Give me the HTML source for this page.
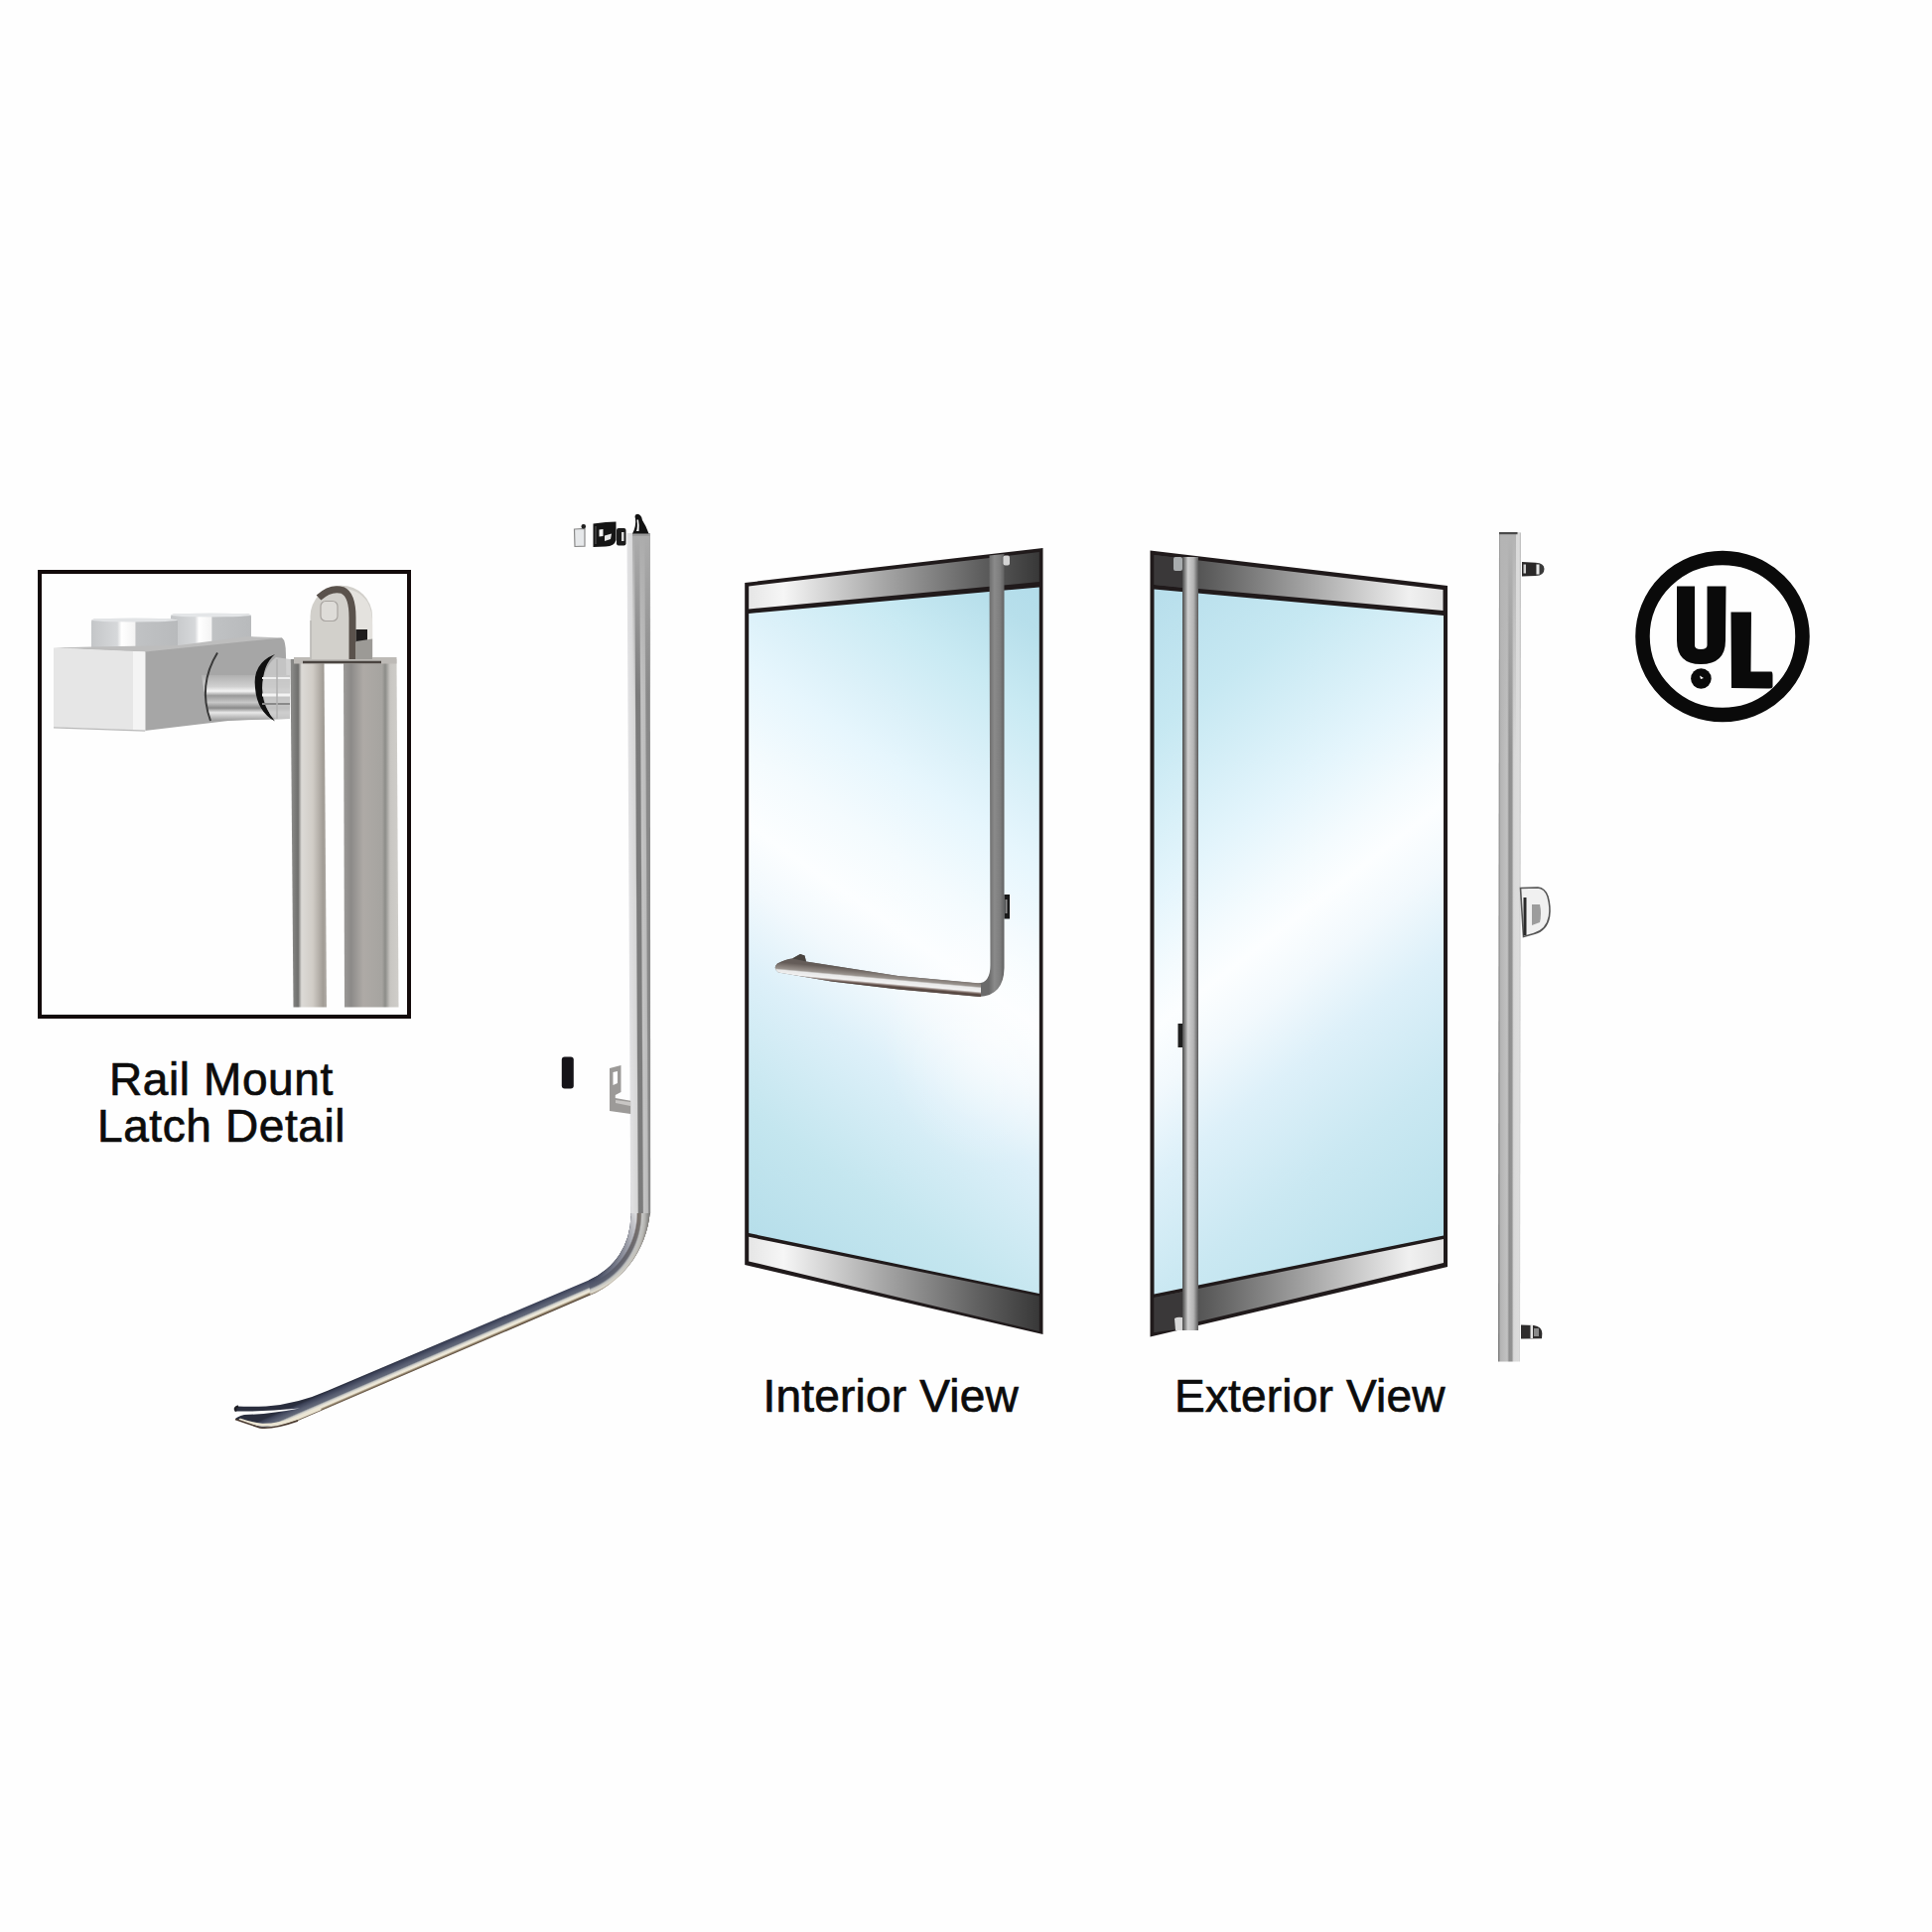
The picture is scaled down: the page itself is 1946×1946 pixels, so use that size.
<!DOCTYPE html>
<html><head><meta charset="utf-8">
<style>
html,body{margin:0;padding:0;background:#fefefe;width:1946px;height:1946px;overflow:hidden}
svg{position:absolute;left:0;top:0;display:block}
text{font-family:"Liberation Sans",sans-serif;fill:#0c0c0c;stroke:#0c0c0c;stroke-width:0.7px}
</style></head>
<body>
<svg width="1946" height="1946" viewBox="0 0 1946 1946" xmlns="http://www.w3.org/2000/svg">
<defs>
  <linearGradient id="glassI" gradientUnits="userSpaceOnUse" x1="1107.4" y1="627" x2="699.8" y2="1208.5">
    <stop offset="0" stop-color="#b2dcea"/>
    <stop offset="0.062" stop-color="#b7dfeb"/>
    <stop offset="0.162" stop-color="#c9eaf3"/>
    <stop offset="0.27" stop-color="#dcf1f9"/>
    <stop offset="0.332" stop-color="#e6f6fd"/>
    <stop offset="0.437" stop-color="#f4fbfe"/>
    <stop offset="0.521" stop-color="#fcfeff"/>
    <stop offset="0.592" stop-color="#f2f9fd"/>
    <stop offset="0.687" stop-color="#ddf0f9"/>
    <stop offset="0.852" stop-color="#c4e6ef"/>
    <stop offset="1" stop-color="#b6deea"/>
  </linearGradient>
  <linearGradient id="glassE" gradientUnits="userSpaceOnUse" x1="1077" y1="633.4" x2="1514.4" y2="1193">
    <stop offset="0" stop-color="#b4dcea"/>
    <stop offset="0.19" stop-color="#c6e8f2"/>
    <stop offset="0.372" stop-color="#e4f5fc"/>
    <stop offset="0.465" stop-color="#f4fbfe"/>
    <stop offset="0.521" stop-color="#fcfeff"/>
    <stop offset="0.592" stop-color="#f2f9fd"/>
    <stop offset="0.687" stop-color="#ddf0f9"/>
    <stop offset="0.823" stop-color="#cae8f2"/>
    <stop offset="1" stop-color="#b8e0eb"/>
  </linearGradient>
  <linearGradient id="railI" gradientUnits="userSpaceOnUse" x1="754" y1="0" x2="1047" y2="0">
    <stop offset="0" stop-color="#e6e6e6"/>
    <stop offset="0.12" stop-color="#f6f6f6"/>
    <stop offset="0.45" stop-color="#a9a9a9"/>
    <stop offset="0.8" stop-color="#5e5e5e"/>
    <stop offset="1" stop-color="#383838"/>
  </linearGradient>
  <linearGradient id="railE" gradientUnits="userSpaceOnUse" x1="1163" y1="0" x2="1454" y2="0">
    <stop offset="0" stop-color="#383838"/>
    <stop offset="0.2" stop-color="#5e5e5e"/>
    <stop offset="0.55" stop-color="#a9a9a9"/>
    <stop offset="0.88" stop-color="#f0f0f0"/>
    <stop offset="1" stop-color="#e2e2e2"/>
  </linearGradient>
  <linearGradient id="pullE" x1="0" y1="0" x2="1" y2="0">
    <stop offset="0" stop-color="#4a4a4a"/>
    <stop offset="0.18" stop-color="#8c8c8c"/>
    <stop offset="0.35" stop-color="#cfcfcf"/>
    <stop offset="0.7" stop-color="#b4b4b4"/>
    <stop offset="1" stop-color="#5a5a5a"/>
  </linearGradient>
  <linearGradient id="barI" x1="0" y1="0" x2="1" y2="0">
    <stop offset="0" stop-color="#6c6c6c"/>
    <stop offset="0.5" stop-color="#8e8e8e"/>
    <stop offset="1" stop-color="#6a6a6a"/>
  </linearGradient>
  <linearGradient id="railL" gradientUnits="userSpaceOnUse" x1="628.6" y1="0" x2="651.9" y2="0" gradientTransform="skewX(0.309)">
    <stop offset="0" stop-color="#e2e2e4"/>
    <stop offset="0.3" stop-color="#d6d6d6"/>
    <stop offset="0.35" stop-color="#7a7a7a"/>
    <stop offset="0.52" stop-color="#7c7c7c"/>
    <stop offset="0.57" stop-color="#c4c4c4"/>
    <stop offset="0.74" stop-color="#bcbcbc"/>
    <stop offset="0.79" stop-color="#8a8a8a"/>
    <stop offset="1" stop-color="#868686"/>
  </linearGradient>
  <linearGradient id="railLtop" gradientUnits="userSpaceOnUse" x1="0" y1="540" x2="0" y2="700">
    <stop offset="0" stop-color="#acacac" stop-opacity="1"/>
    <stop offset="1" stop-color="#acacac" stop-opacity="0"/>
  </linearGradient>
  <linearGradient id="railR" gradientUnits="userSpaceOnUse" x1="1509" y1="0" x2="1532" y2="0">
    <stop offset="0" stop-color="#6e6e6e"/>
    <stop offset="0.1" stop-color="#b4b4b4"/>
    <stop offset="0.4" stop-color="#c2c2c2"/>
    <stop offset="0.48" stop-color="#8e8e8e"/>
    <stop offset="0.6" stop-color="#929292"/>
    <stop offset="0.68" stop-color="#d8d8d8"/>
    <stop offset="0.92" stop-color="#dcdcdc"/>
    <stop offset="1" stop-color="#b8b8b8"/>
  </linearGradient>
  <linearGradient id="railRtop" gradientUnits="userSpaceOnUse" x1="0" y1="540" x2="0" y2="760">
    <stop offset="0" stop-color="#b4b4b4" stop-opacity="1"/>
    <stop offset="1" stop-color="#b4b4b4" stop-opacity="0"/>
  </linearGradient>
  <linearGradient id="tubeA" gradientUnits="userSpaceOnUse" x1="294" y1="0" x2="329" y2="0">
    <stop offset="0" stop-color="#8a8a88"/>
    <stop offset="0.18" stop-color="#6e6e6c"/>
    <stop offset="0.28" stop-color="#dcdad6"/>
    <stop offset="0.6" stop-color="#d0ccc6"/>
    <stop offset="0.9" stop-color="#a29d96"/>
    <stop offset="1" stop-color="#b0aca6"/>
  </linearGradient>
  <linearGradient id="tubeB" gradientUnits="userSpaceOnUse" x1="347" y1="0" x2="401" y2="0">
    <stop offset="0" stop-color="#9a9896"/>
    <stop offset="0.12" stop-color="#8c8a88"/>
    <stop offset="0.35" stop-color="#aeaaa6"/>
    <stop offset="0.7" stop-color="#a6a4a0"/>
    <stop offset="0.76" stop-color="#8c8c88"/>
    <stop offset="0.85" stop-color="#c8c6c2"/>
    <stop offset="1" stop-color="#cfcdc9"/>
  </linearGradient>
  <linearGradient id="cyl" x1="0" y1="0" x2="1" y2="0">
    <stop offset="0" stop-color="#c4c6c8"/>
    <stop offset="0.3" stop-color="#d6d8da"/>
    <stop offset="0.35" stop-color="#ffffff"/>
    <stop offset="0.5" stop-color="#f4f4f4"/>
    <stop offset="0.52" stop-color="#c0c2c4"/>
    <stop offset="1" stop-color="#b8babc"/>
  </linearGradient>
  <linearGradient id="shaft" x1="0" y1="0" x2="0" y2="1">
    <stop offset="0" stop-color="#b0b0b0"/>
    <stop offset="0.25" stop-color="#d0d0d0"/>
    <stop offset="0.35" stop-color="#f4f4f4"/>
    <stop offset="0.45" stop-color="#9a9a9a"/>
    <stop offset="0.6" stop-color="#c8c8c8"/>
    <stop offset="0.72" stop-color="#8a8a8a"/>
    <stop offset="0.82" stop-color="#e8e8e8"/>
    <stop offset="1" stop-color="#9a9a9a"/>
  </linearGradient>
  <linearGradient id="diag" gradientUnits="userSpaceOnUse" x1="0" y1="-8" x2="0" y2="8">
    <stop offset="0" stop-color="#2e3342"/>
    <stop offset="0.3" stop-color="#4a5060"/>
    <stop offset="0.5" stop-color="#9a9ca4"/>
    <stop offset="0.62" stop-color="#e8e4d8"/>
    <stop offset="0.8" stop-color="#f4efe2"/>
    <stop offset="0.9" stop-color="#8a7a6a"/>
    <stop offset="1" stop-color="#4a3a30"/>
  </linearGradient>
  <linearGradient id="diagG" gradientUnits="userSpaceOnUse" x1="400" y1="1371" x2="406.3" y2="1385.6">
    <stop offset="0" stop-color="#2a2e3e"/>
    <stop offset="0.12" stop-color="#3c4258"/>
    <stop offset="0.35" stop-color="#565c70"/>
    <stop offset="0.52" stop-color="#646a7a"/>
    <stop offset="0.6" stop-color="#c0c2c0"/>
    <stop offset="0.7" stop-color="#e8e4d8"/>
    <stop offset="0.8" stop-color="#eee8d6"/>
    <stop offset="0.9" stop-color="#908068"/>
    <stop offset="1" stop-color="#443428"/>
  </linearGradient>
  <radialGradient id="bendB" gradientUnits="userSpaceOnUse" cx="565" cy="1222" r="95" fx="565" fy="1222">
    <stop offset="0.74" stop-color="#2a2e42"/>
    <stop offset="0.8" stop-color="#4c5268"/>
    <stop offset="0.85" stop-color="#5a6072"/>
    <stop offset="0.87" stop-color="#c0c2c0"/>
    <stop offset="0.9" stop-color="#e0dccf"/>
    <stop offset="0.92" stop-color="#a09484"/>
    <stop offset="0.95" stop-color="#5a4c40"/>
  </radialGradient>
  <radialGradient id="bendA" gradientUnits="userSpaceOnUse" cx="565" cy="1222" r="95" fx="565" fy="1222">
    <stop offset="0.74" stop-color="#d8d8da"/>
    <stop offset="0.8" stop-color="#e4e4e6"/>
    <stop offset="0.815" stop-color="#7a7068"/>
    <stop offset="0.845" stop-color="#7e7872"/>
    <stop offset="0.86" stop-color="#cacac8"/>
    <stop offset="0.89" stop-color="#b4b4b2"/>
    <stop offset="0.94" stop-color="#7a7a78"/>
  </radialGradient>
  <linearGradient id="bendMaskG" gradientUnits="userSpaceOnUse" x1="648" y1="1222" x2="602" y2="1292">
    <stop offset="0" stop-color="#ffffff"/>
    <stop offset="1" stop-color="#000000"/>
  </linearGradient>
  <mask id="bendMask" maskUnits="userSpaceOnUse" x="500" y="1150" width="200" height="200">
    <rect x="500" y="1150" width="200" height="200" fill="url(#bendMaskG)"/>
  </mask>
  <linearGradient id="barIG" gradientUnits="userSpaceOnUse" x1="996" y1="0" x2="1012" y2="0">
    <stop offset="0" stop-color="#6a6a6a"/>
    <stop offset="0.35" stop-color="#8a8a8a"/>
    <stop offset="0.7" stop-color="#7e7e7e"/>
    <stop offset="1" stop-color="#5e5e5e"/>
  </linearGradient>
  <linearGradient id="handleG" gradientUnits="userSpaceOnUse" x1="0" y1="898" x2="0" y2="912.5" gradientTransform="skewY(5.17)">
    <stop offset="0" stop-color="#645c58"/>
    <stop offset="0.25" stop-color="#847c77"/>
    <stop offset="0.45" stop-color="#9a948f"/>
    <stop offset="0.55" stop-color="#e8e8e8"/>
    <stop offset="0.8" stop-color="#f2f2f2"/>
    <stop offset="0.92" stop-color="#8a7a74"/>
    <stop offset="1" stop-color="#5a4a44"/>
  </linearGradient>
  <radialGradient id="glowG">
    <stop offset="0" stop-color="#ffffff" stop-opacity="0.5"/>
    <stop offset="0.5" stop-color="#ffffff" stop-opacity="0.25"/>
    <stop offset="1" stop-color="#ffffff" stop-opacity="0"/>
  </radialGradient>
  <clipPath id="clipGI"><polygon points="754.2,618 1046.8,591.5 1046.8,1303 754.2,1242"/></clipPath>
</defs>

<!-- ============ LATCH DETAIL BOX ============ -->
<g id="latch">
  <rect x="40" y="576" width="372" height="448" fill="#fefefe" stroke="#130a0a" stroke-width="4"/>
  <!-- cylinders on top of block -->
  <rect x="172" y="618.5" width="81" height="34" rx="3" fill="url(#cyl)"/>
  <ellipse cx="212.5" cy="619.5" rx="40.5" ry="2" fill="#e4e6e8"/>
  <rect x="92" y="623.5" width="87" height="31" rx="3" fill="url(#cyl)"/>
  <ellipse cx="135.5" cy="624.5" rx="43.5" ry="2" fill="#e2e4e6"/>
  <!-- top face strip -->
  <polygon points="54,652.5 92,651.5 180,650 250,641 284,642.5 287,650 146,657" fill="#bdbdbd"/>
  <!-- side face -->
  <path d="M146,656.5 L284,642.5 Q288,645 288,660 L289,724 Q260,724 230,726 L146,736 Z" fill="#a6a6a6"/>
  <!-- front face -->
  <polygon points="54,652.5 146.3,656.5 146.3,736 54,732.5" fill="#e6e6e6"/>
  <polygon points="134,656 146.3,656.5 146.3,736 134,735.5" fill="#f4f4f4"/>
  <line x1="54" y1="732.8" x2="146.3" y2="736.2" stroke="#b8b8b8" stroke-width="1.2"/>
  <!-- horizontal shaft -->
  <path d="M203,680 Q206,700 212,726 L292,724 L292,680 Z" fill="url(#shaft)"/>
  <path d="M219,657.5 Q199,690 212,726" fill="none" stroke="#3a3a3a" stroke-width="2"/>
  <!-- black C ring -->
  <path d="M277,659 Q254,668 257,693 Q259,717 277,726.5 Q266,714 264.5,693 Q264,670 277,659 Z" fill="#101010"/>
  <path d="M264,693 Q265,716 278,724 L292,724 L292,664 L278,662 Q265,672 264,693 Z" fill="#c9c9c9" opacity="0.85"/>
  <line x1="264" y1="683" x2="292" y2="683" stroke="#f0f0f0" stroke-width="2"/>
  <line x1="264" y1="700" x2="292" y2="700" stroke="#f4f4f4" stroke-width="3"/>
  <line x1="264" y1="709" x2="292" y2="709" stroke="#8a8a8a" stroke-width="2"/>
  <line x1="279" y1="664" x2="279" y2="724" stroke="#b0b0b0" stroke-width="1.5"/>
  <!-- vertical tubes -->
  <polygon points="292.5,664 326.5,664 329,1014.5 295.5,1014.5" fill="url(#tubeA)"/>
  <polygon points="346,664 399.5,664 401.5,1014.5 347,1014.5" fill="url(#tubeB)"/>
  <!-- flange plate -->
  <polygon points="296,662 399.5,662 399.5,668.5 296,668.5" fill="#bdbab6"/>
  <line x1="305" y1="667" x2="384" y2="667" stroke="#4a4440" stroke-width="2.5"/>
  <!-- roller housing -->
  <path d="M312.5,664 L312.5,621 A31.3,31.3 0 0 1 375.1,621 L375.1,664 Z" fill="#d2d0cb"/>
  <path d="M357,664 L357,622 Q357,598 342,593 Q360,592 370,606 Q375.5,616 375.1,630 L375.1,664 Z" fill="#e4e2de"/>
  <path d="M321,602 Q333,591 345,594.5 Q355,599 355,622 L355,664" fill="none" stroke="#5a524c" stroke-width="7"/>
  <rect x="358.5" y="634" width="11.5" height="13" fill="#1e1c1c"/>
  <polygon points="358.5,646 375.1,643.5 375.1,664 358.5,664" fill="#9c9a96"/>
  <rect x="323" y="605.5" width="17" height="20" rx="5" fill="#dedcd8" stroke="#a8a4a0" stroke-width="1.2"/>
  <line x1="313" y1="625" x2="313" y2="664" stroke="#bab8b4" stroke-width="1.5"/>
</g>

<!-- ============ LEFT RAIL ============ -->
<g id="railLeft">
  <!-- bend + diagonal -->
  <path d="M635.4,1225.2 A70,70 0 0 1 593.1,1289.5 L330,1400.7 Q300,1414 268,1416.5 Q250,1417 240,1416.5 Q235,1418 238,1421.5 Q262,1422 302,1418.5 Q272,1424.5 246,1425 Q238,1427 237,1429.5 Q250,1434 262,1438 Q276,1439.5 300,1431 L594.5,1304.6 A100,100 0 0 0 655,1213.3 Z" fill="url(#diagG)"/>
  <path d="M635.4,1190 L635.4,1225.2 A70,70 0 0 1 593.1,1289.5 L594.5,1304.6 A100,100 0 0 0 655,1213.3 L655,1190 Z" fill="url(#bendB)"/>
  <path d="M635.4,1190 L635.4,1225.2 A70,70 0 0 1 593.1,1289.5 L594.5,1304.6 A100,100 0 0 0 655,1213.3 L655,1190 Z" fill="url(#bendA)" mask="url(#bendMask)"/>
  <path d="M322,1419 L300,1428.3 Q280,1435.5 264,1435.2 Q251,1433.5 242,1430.2" fill="none" stroke="#ebe5d3" stroke-width="3" stroke-linecap="round"/>
  <path d="M300,1431 Q276,1439.5 262,1438 Q250,1434 237,1429.5" fill="none" stroke="#4a3a30" stroke-width="1.6"/>
  <path d="M240,1416.5 Q235,1418 238,1421.5" fill="none" stroke="#1e1e24" stroke-width="2.5"/>
  <!-- vertical rail -->
  <polygon points="631.5,537 654.8,537 655.2,1222 635.2,1222" fill="url(#railL)"/>
  <polygon points="637,537 654.8,537 655.6,700 637.9,700" fill="url(#railLtop)"/>
  <rect x="637" y="537" width="17.5" height="3" fill="#9a9a9a"/>
  <!-- top hardware -->
  <path d="M637,537.5 L653.5,537.5 Q651,530 647,524 Q646,518 642,517.8 Q638.5,518.5 640,522.5 Q641,530 637,537.5 Z" fill="#121212"/>
  <path d="M641.5,523.5 Q642.5,531 641,535 L643.5,535 Q644,528 643,523.5 Z" fill="#ffffff"/>
  <polygon points="578.5,533 589,532.5 589,550.2 579,550.5" fill="#e6e8ea" stroke="#8a8a8a" stroke-width="1.2"/>
  <rect x="585.5" y="528" width="4.5" height="4.5" rx="2" fill="#222"/>
  <path d="M597.5,527.5 L610,526 L620.5,525.5 L620.5,544 Q619,550 610,550.5 L597.5,551 Z" fill="#151515"/>
  <polygon points="603.5,533.5 607.5,533 607.5,540 603.5,540.5" fill="#f4f4f4"/>
  <polygon points="609,539.5 616,537.5 615,543 609,545" fill="#e8e8e8"/>
  <rect x="599" y="530" width="2" height="18" fill="#3a3a3a"/>
  <rect x="621" y="532" width="9.5" height="17.5" rx="2" fill="#1a1a1a"/>
  <rect x="626" y="536" width="2.5" height="9" fill="#dcdcdc"/>
  <!-- black rubber -->
  <rect x="565.8" y="1064.6" width="12" height="32" rx="3" fill="#151318"/>
  <!-- bracket -->
  <path d="M614,1076 L625.5,1073 L625.5,1100 L619.8,1103 L619.8,1106 L635.2,1108.8 L635.2,1122 L614,1119 Z" fill="#9c9a98"/>
  <polygon points="617.5,1080 622,1079 622,1091 617.5,1093" fill="#ffffff"/>
  <polygon points="620,1108 635,1110 635,1114 620,1111" fill="#c8c6c4"/>
</g>

<!-- ============ TEXT ============ -->
<text x="110" y="1102.5" font-size="46" letter-spacing="0.6">Rail Mount</text>
<text x="98" y="1150" font-size="46" letter-spacing="0.6">Latch Detail</text>
<text x="768.5" y="1422.3" font-size="46" letter-spacing="0.2">Interior View</text>
<text x="1183" y="1422.3" font-size="46" letter-spacing="0.2">Exterior View</text>

<!-- ============ INTERIOR DOOR ============ -->
<g id="doorI">
  <polygon points="750.2,587 1050.5,552 1050.5,1344 750.2,1274" fill="#201a1b"/>
  <polygon points="754.2,590.5 1046.8,556 1046.8,586 754.2,613.5" fill="url(#railI)"/>
  <polygon points="754.2,618 1046.8,591.5 1046.8,1303 754.2,1242" fill="url(#glassI)"/>
  <ellipse cx="1000" cy="1045" rx="110" ry="130" fill="url(#glowG)" clip-path="url(#clipGI)"/>
  <polygon points="754.2,1245.8 1046.8,1305.5 1046.8,1341 754.2,1270.4" fill="url(#railI)"/>
  <!-- push bar -->
  <path d="M996.5,559.5 L1011.5,558 L1011.5,975 Q1011,1003 986,1004 L904.6,996.5 L837.3,988.5 L784,979.5 Q778,975.5 783,970.5 Q792,966 798,965.5 L806,961 L810.5,962.5 L812,968.5 L904.6,983 L985,990.5 Q997.5,990 997.5,972 Z" fill="url(#barIG)"/>
  <path d="M784,979.5 Q778,975.5 783,970.5 Q792,966 798,965.5 L812,968.5 L904.6,983 L988,990.5 L988,1004 L904.6,996.5 L837.3,988.5 Z" fill="url(#handleG)"/>
  <path d="M798,965.5 L806,961 L810.5,962.5 L812,968.5 Z" fill="#4a4440"/>
  <rect x="1010.5" y="559.5" width="6.5" height="10" rx="2" fill="#d4d4d4"/>
  <rect x="1011.5" y="901" width="5.5" height="24.5" fill="#1a1a1a"/>
  <rect x="1012.5" y="906" width="2" height="14" fill="#8a8a8a"/>
</g>

<!-- ============ EXTERIOR DOOR ============ -->
<g id="doorE">
  <polygon points="1158.5,554.5 1458,590 1458,1276 1158.5,1346.5" fill="#201a1b"/>
  <polygon points="1162.5,559 1453.5,594 1453.5,615 1162.5,589" fill="url(#railE)"/>
  <polygon points="1162.5,593.5 1454,620 1454,1244.6 1162.5,1303.5" fill="url(#glassE)"/>
  <polygon points="1162.5,1307 1454,1248 1454,1272 1162.5,1342" fill="url(#railE)"/>
  <polygon points="1162.5,559 1191,562.5 1191,1338.5 1162.5,1342" fill="#383536" opacity="0"/>
  <polygon points="1162.5,559 1191,562.4 1191,592 1162.5,589" fill="#3a3839"/>
  <polygon points="1162.5,1307 1191,1301.2 1191,1338.5 1162.5,1342" fill="#3a3839"/>
  <!-- pull bar -->
  <rect x="1191" y="561" width="16" height="779" fill="url(#pullE)"/>
  <rect x="1182" y="561" width="9" height="14" rx="2" fill="#a8acae"/>
  <rect x="1186.5" y="1031" width="4.5" height="24" fill="#1e1e1e"/>
  <path d="M1183,1328 Q1186,1326 1191,1327 L1191,1340 L1184,1340 Z" fill="#d8d8d8"/>
</g>

<!-- ============ RIGHT RAIL ============ -->
<g id="railRight">
  <polygon points="1510,536 1528.5,536 1532,536.5 1531,1371.5 1509,1371.5" fill="url(#railR)"/>
  <rect x="1512" y="538" width="15" height="222" fill="url(#railRtop)"/>
  <rect x="1510" y="536" width="18.5" height="2.2" fill="#4a4a4a"/>
  <path d="M1533,566 L1547,566.8 L1547,580 L1533,580.5 Z" fill="#2a2828"/>
  <path d="M1547,566.8 Q1555,567 1555.5,573 Q1555.5,579.5 1547,580 Z" fill="#3a3a3a"/>
  <rect x="1534.5" y="568.5" width="2.5" height="9" fill="#cfcfcf"/>
  <rect x="1547.5" y="568.5" width="3" height="10" fill="#e8e8e8"/>
  <path d="M1531.5,894.5 L1549,894 Q1556,894.5 1559,903 Q1562,914 1560.5,923 Q1558,937 1545,940.5 L1534.5,943.5 Z" fill="#f0f0f0" stroke="#555" stroke-width="1.6"/>
  <rect x="1534.5" y="904" width="3" height="38" fill="#2a2a2a"/>
  <path d="M1543,911 L1551,911 Q1553,920 1551,929 L1543,932 Z" fill="#9c9c9c"/>
  <path d="M1532,1334.5 L1545,1335 Q1553,1336 1553.3,1343 L1553,1348.3 L1532,1348.4 Z" fill="#2e2c2c"/>
  <rect x="1541.5" y="1335" width="2.5" height="13" fill="#e6e6e6"/>
  <rect x="1545" y="1338" width="5" height="8" fill="#8a8a8a"/>
</g>

<!-- ============ UL LOGO ============ -->
<g id="ul">
  <ellipse cx="1735" cy="641" rx="80.5" ry="79" fill="none" stroke="#0a0a0a" stroke-width="14.5"/>
  <path d="M1689,590.5 L1707,590.5 L1707,650 Q1707,654 1713,654 Q1719.5,654 1719.5,650 L1719.5,590.5 L1738.5,590.5 L1738,645 Q1738,669 1713,669 Q1689,669 1689,645 Z" fill="#0a0a0a"/>
  <circle cx="1713.4" cy="683.5" r="10.3" fill="#0a0a0a"/>
  <path d="M1712,680.5 L1716,683 L1713,684 Z" fill="#ffffff"/>
  <path d="M1743.5,616.5 L1764,616.5 L1763.5,676.5 L1784.5,676.5 Q1785.5,677 1785.5,680 L1785.5,692 Q1785,693.5 1782,693.5 L1744,693 Z" fill="#0a0a0a"/>
</g>

</svg>
</body></html>
